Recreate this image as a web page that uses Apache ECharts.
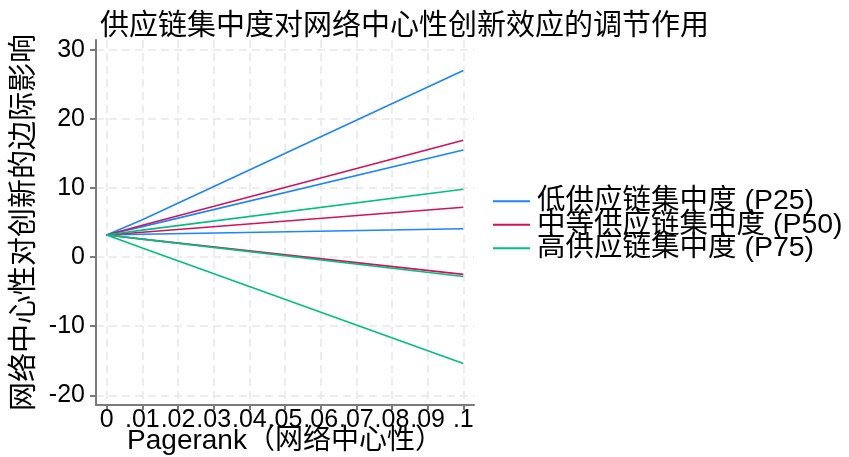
<!DOCTYPE html>
<html>
<head>
<meta charset="utf-8">
<script src="https://cdn.jsdelivr.net/npm/echarts@6/dist/echarts.min.js"></script>
<style>
  html, body { margin: 0; padding: 0; background: #fff; }
  #chart { width: 849px; height: 457px; }
</style>
</head>
<body>
<div id="chart"></div>
<script>
// Pagerank values at which the marginal effect is evaluated
const pagerank = [0, 0.01, 0.1];

// Marginal effect lines, three per supply-chain concentration level
const lowConc = [
  [3.2, 5.4, 27.0],
  [3.2, 4.4, 15.5],
  [3.2, 3.3, 4.1]
];
const midConc = [
  [3.2, 4.6, 16.9],
  [3.2, 3.6, 7.2],
  [3.2, 2.6, -2.5]
];
const highConc = [
  [3.2, 3.9, 9.8],
  [3.2, 2.6, -2.8],
  [3.2, 1.3, -15.4]
];

const seriesNames = ['低供应链集中度 (P25)', '中等供应链集中度 (P50)', '高供应链集中度 (P75)'];
const seriesColors = ['#1a85ff', '#d41159', '#00bf7f'];

// Axis ticks and their labels
const xTicks = [0, 0.01, 0.02, 0.03, 0.04, 0.05, 0.06, 0.07, 0.08, 0.09, 0.1];
const xTickLabels = ['0', '.01', '.02', '.03', '.04', '.05', '.06', '.07', '.08', '.09', '.1'];
const yTicks = [-20, -10, 0, 10, 20, 30];

const FONT = '"Liberation Sans", "Noto Sans CJK SC", sans-serif';

function makeSeries(groups, idx) {
  return groups.map(vals => ({
    name: seriesNames[idx],
    type: 'line',
    symbol: 'none',
    silent: true,
    data: pagerank.map((x, i) => [x, vals[i]]),
    lineStyle: { color: seriesColors[idx], width: 1.6 },
    itemStyle: { color: seriesColors[idx] }
  }));
}

const axisLineStyle = { color: '#7a7a7a', width: 2 };
const gridLineStyle = { color: '#e8e8e8', width: 1.5, type: [8, 5] };

const chart = echarts.init(document.getElementById('chart'), null, { renderer: 'canvas' });
chart.setOption({
  animation: false,
  backgroundColor: '#fff',
  textStyle: { fontFamily: FONT },
  title: {
    text: '供应链集中度对网络中心性创新效应的调节作用',
    left: 95,
    top: 7,
    textStyle: { fontFamily: FONT, fontSize: 29, fontWeight: 'normal', color: '#000' }
  },
  legend: {
    orient: 'vertical',
    left: 487,
    top: 182,
    itemGap: -5,
    itemWidth: 37,
    itemHeight: 14,
    itemStyle: { opacity: 0 },
    lineStyle: { width: 2 },
    data: seriesNames,
    textStyle: { fontFamily: FONT, fontSize: 28.5, color: '#000', padding: [0, 0, 0, 2] }
  },
  grid: { left: 96, right: 375, top: 40, bottom: 52, containLabel: false, outerBoundsMode: 'none' },
  xAxis: {
    type: 'value',
    min: -0.003,
    max: 0.103,
    name: 'Pagerank（网络中心性）',
    nameLocation: 'middle',
    nameGap: 22,
    nameMoveOverlap: false,
    nameTextStyle: { fontFamily: FONT, fontSize: 28, color: '#000' },
    axisLine: { show: true, onZero: false, lineStyle: axisLineStyle },
    axisTick: { show: true, length: 5, customValues: xTicks, lineStyle: axisLineStyle },
    axisLabel: {
      customValues: xTicks,
      margin: 3,
      fontFamily: FONT,
      fontSize: 25,
      color: '#000',
      hideOverlap: false,
      showMinLabel: true,
      showMaxLabel: true,
      formatter: v => {
        const i = xTicks.findIndex(t => Math.abs(t - v) < 1e-9);
        return i >= 0 ? xTickLabels[i] : '';
      }
    },
    splitLine: { show: true, lineStyle: gridLineStyle }
  },
  yAxis: {
    type: 'value',
    min: -21.4,
    max: 31.4,
    name: '网络中心性对创新的边际影响',
    nameLocation: 'middle',
    nameGap: 56,
    nameMoveOverlap: false,
    nameTextStyle: { fontFamily: FONT, fontSize: 29, color: '#000' },
    axisLine: { show: true, onZero: false, lineStyle: axisLineStyle },
    axisTick: { show: true, length: 6, customValues: yTicks, lineStyle: axisLineStyle },
    axisLabel: {
      customValues: yTicks,
      margin: 11,
      fontFamily: FONT,
      fontSize: 25,
      color: '#000',
      showMinLabel: true,
      showMaxLabel: true
    },
    splitLine: { show: true, lineStyle: gridLineStyle }
  },
  series: [
    ...makeSeries(lowConc, 0),
    ...makeSeries(midConc, 1),
    ...makeSeries(highConc, 2)
  ]
});
</script>
</body>
</html>
